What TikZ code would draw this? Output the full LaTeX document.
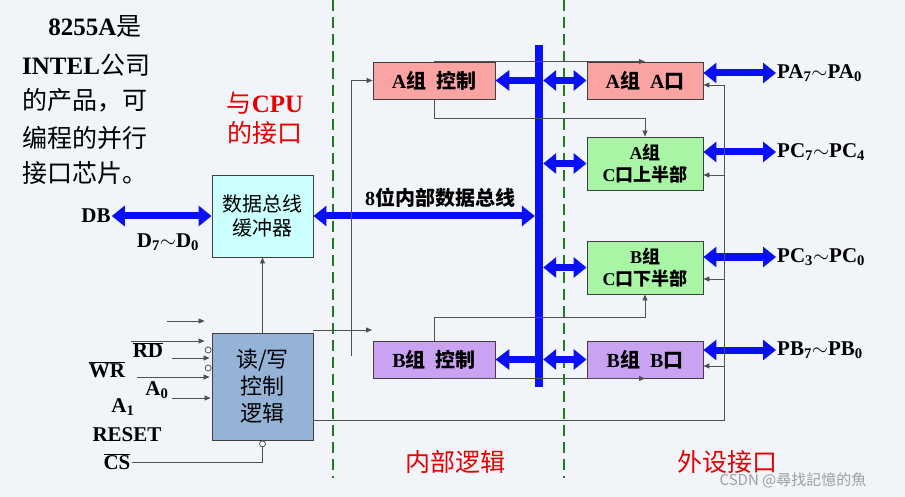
\documentclass[tikz,border=0pt]{standalone}
\usepackage{fontspec}
\setmainfont{Liberation Serif}
\newfontfamily\cjk{Noto Sans CJK SC}
\usetikzlibrary{arrows.meta,calc}
\definecolor{BusBlue}{HTML}{0A10F5}
\definecolor{CtrlPink}{HTML}{F9A3A3}
\definecolor{PortGreen}{HTML}{A8F5A6}
\definecolor{GroupPurple}{HTML}{C9A3F2}
\definecolor{BufCyan}{HTML}{CCFFFF}
\definecolor{LogicBlue}{HTML}{95B3D7}
\definecolor{SplitGreen}{HTML}{1E7B1E}
\definecolor{NoteRed}{HTML}{E60000}
\definecolor{WireGray}{HTML}{505050}
\definecolor{PaperBlue}{HTML}{F1F5FA}
\newcommand{\zh}[1]{{\cjk\mdseries #1}}
\newcommand{\zhb}[1]{{\cjk #1}}

\begin{document}
\begin{tikzpicture}[x=1pt,y=-1pt,
  box/.style={draw=black!75,line width=0.9pt,inner sep=0pt,align=center,
    font=\fontsize{20}{24}\selectfont\bfseries},
  wide/.style={BusBlue,line width=7pt,arrows={Triangle[width=20pt,length=13pt]-Triangle[width=20pt,length=13pt]}},
  onewide/.style={BusBlue,line width=7pt,arrows={-Triangle[width=20pt,length=14pt]}},
  sig/.style={WireGray,line width=0.8pt,-{Triangle[length=6pt,width=5pt]}},
  wire/.style={WireGray,line width=0.8pt},
  inv/.style={circle,draw=WireGray,fill=white,line width=0.8pt,minimum size=6pt,inner sep=0pt},
  lbl/.style={font=\fontsize{21}{24}\selectfont\bfseries,inner sep=1pt},
  note/.style={NoteRed,align=center,font=\fontsize{25}{30}\selectfont\bfseries},
  intro/.style={font=\fontsize{25}{30}\selectfont\bfseries,inner sep=0pt},
  split/.style={SplitGreen,line width=2.5pt,dash pattern=on 11pt off 6pt}]
  \fill[PaperBlue] (0,0) rectangle (905,497);
  \useasboundingbox (0,0) rectangle (905,497);
  \draw[split] (333,0) -- (333,478);
  \draw[split] (564,0) -- (564,478);

  \node[intro] (intro1) at (95,27) {8255A\zh{是}};
  \node[intro,anchor=west] (intro2) at (22,65) {INTEL\zh{公司}};
  \node[intro,anchor=west] (intro3) at (22,100) {\zh{的产品，可}};
  \node[intro,anchor=west] (intro4) at (22,138) {\zh{编程的并行}};
  \node[intro,anchor=west] (intro5) at (22,173) {\zh{接口芯片。}};
  \node[note] (cpunote) at (265,118) {\zh{与}CPU\\\zh{的接口}};
  \node[note] (inner) at (455,462) {\zh{内部逻辑}};
  \node[note] (outer) at (727,462) {\zh{外设接口}};

  \node[box,fill=BufCyan,minimum width=101,minimum height=82] (buf) at (262.5,216)
    {\zh{数据总线}\\\zh{缓冲器}};
  \node[box,fill=LogicBlue,minimum width=101,minimum height=107,
    font=\fontsize{22}{27}\selectfont] (rw) at (262.5,386.5) {\zh{读/写}\\\zh{控制}\\\zh{逻辑}};
  \node[box,fill=CtrlPink,minimum width=122,minimum height=37] (actl) at (434,80.5) {A\zhb{组}\ \ \zhb{控制}};
  \node[box,fill=GroupPurple,minimum width=122,minimum height=37] (bctl) at (434,359.5) {B\zhb{组}\ \ \zhb{控制}};
  \node[box,fill=CtrlPink,minimum width=116,minimum height=37] (pa) at (645,80.5) {A\zhb{组}\ \ A\zhb{口}};
  \node[box,fill=PortGreen,minimum width=116,minimum height=53,
    font=\fontsize{18}{22}\selectfont\bfseries] (pcu) at (645,163.5) {A\zhb{组}\\C\zhb{口上半部}};
  \node[box,fill=PortGreen,minimum width=116,minimum height=53,
    font=\fontsize{18}{22}\selectfont\bfseries] (pcl) at (645,267.5) {B\zhb{组}\\C\zhb{口下半部}};
  \node[box,fill=GroupPurple,minimum width=116,minimum height=37] (pb) at (645,359.5) {B\zhb{组}\ \ B\zhb{口}};
  \node[fill=BusBlue,minimum width=8,minimum height=342,inner sep=0pt] (bus) at (539,216) {};

  \node[lbl] (db) at (96,216) {DB};
  \node[lbl] (dlab) at (168,242) {D\textsubscript{7}$\sim$D\textsubscript{0}};
  \node[lbl,font=\fontsize{20}{24}\selectfont\bfseries] (buslab) at (440,198) {8\zhb{位内部数据总线}};
  \node[lbl,anchor=west] (palab) at (776,73) {PA\textsubscript{7}$\sim$PA\textsubscript{0}};
  \node[lbl,anchor=west] (pculab) at (776,152) {PC\textsubscript{7}$\sim$PC\textsubscript{4}};
  \node[lbl,anchor=west] (pcllab) at (776,257) {PC\textsubscript{3}$\sim$PC\textsubscript{0}};
  \node[lbl,anchor=west] (pblab) at (776,350) {PB\textsubscript{7}$\sim$PB\textsubscript{0}};

  \node[lbl] (rd) at (148,350) {$\overline{\mbox{RD}}$};
  \node[lbl] (wr) at (107,370) {$\overline{\mbox{WR}}$};
  \node[lbl] (azero) at (157,390) {A\textsubscript{0}};
  \node[lbl] (aone) at (123,407) {A\textsubscript{1}};
  \node[lbl] (reset) at (127,435) {RESET};
  \node[lbl] (cs) at (117,462) {$\overline{\mbox{CS}}$};

  \draw[wide] (db.east) -- (buf.west);
  \draw[wide] (buf.east) -- (bus.west |- buf.east);
  \draw[onewide] (bus.west |- actl.east) -- (actl.east);
  \draw[onewide] (bus.west |- bctl.east) -- (bctl.east);
  \foreach \p in {pa,pcu,pcl,pb}
    \draw[wide] (bus.east |- \p.west) -- (\p.west);
  \draw[wide] (pa.east |- palab) -- (palab.west);
  \draw[wide] (pcu.east |- pculab) -- (pculab.west);
  \draw[wide] (pcl.east |- pcllab) -- (pcllab.west);
  \draw[wide] (pb.east |- pblab) -- (pblab.west);

  \draw[sig] (rw.north) -- (buf.south);
  \draw[sig] (351,356) |- (actl.west);
  \draw[sig] (rw.east |- 0,330) -- (372,330);
  \draw[sig] (actl.south) -- ++(0,19) -| (pcu.north);
  \draw[sig] (actl.north) -- (pa.north);
  \draw[sig] (bctl.north) -- ++(0,-23) -| (pcl.south);
  \draw[sig] (bctl.south) -- (pb.south);
  \draw[wire] (rw.east |- 0,420) -| (724,85);
  \foreach \p/\y in {pa/85,pcu/175,pcl/279,pb/366}
    \draw[sig] (724,\y) -- (\p.east |- 0,\y);

  \foreach \y/\x/\s in {321/167/7,341/131/7,358/172/2,377/137/2,398/172/1}
    \draw[sig,shorten >=\s pt] (\x,\y) -- (rw.west |- 0,\y);
  \node[inv,anchor=east] (inv1) at (rw.west |- 0,350) {};
  \node[inv,anchor=east] (inv2) at (rw.west |- 0,368) {};
  \node[inv,anchor=north] (inv3) at (rw.south) {};
  \draw[wire] (cs.east) -| (inv3.south);

  \node[text=gray!75,font=\cjk\fontsize{15}{15}\selectfont] (mark) at (793,480) {CSDN @尋找記憶的魚};
\end{tikzpicture}
\end{document}
